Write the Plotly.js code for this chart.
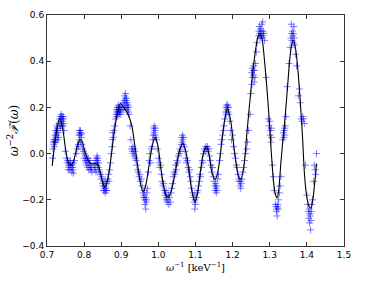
<!DOCTYPE html>
<html>
<head>
<meta charset="utf-8">
<script src="https://cdn.plot.ly/plotly-3.0.1.min.js"></script>
<style>html,body{margin:0;padding:0;background:#fff;}#plot{width:365px;height:281px;}</style>
</head>
<body>
<div id="plot"></div>
<script>
// Fitted curve (black line)
const curveX = [0.714,0.72,0.727,0.734,0.742,0.75,0.757,0.764,0.771,0.778,0.784,0.789,0.795,0.802,0.81,0.817,0.825,0.832,0.838,0.845,0.85,0.855,0.86,0.866,0.873,0.88,0.888,0.898,0.907,0.915,0.922,0.929,0.937,0.945,0.953,0.96,0.967,0.975,0.983,0.991,0.998,1.005,1.012,1.019,1.026,1.033,1.041,1.05,1.058,1.066,1.074,1.082,1.09,1.099,1.106,1.113,1.121,1.13,1.137,1.144,1.153,1.16,1.168,1.177,1.186,1.194,1.202,1.21,1.216,1.222,1.23,1.238,1.246,1.254,1.262,1.268,1.274,1.28,1.286,1.292,1.298,1.304,1.31,1.315,1.32,1.324,1.33,1.336,1.342,1.348,1.354,1.359,1.364,1.37,1.376,1.382,1.388,1.394,1.4,1.406,1.411,1.416,1.421,1.426];
const curveY = [-0.053,0.03,0.11,0.152,0.11,0.02,-0.035,-0.05,-0.035,0.01,0.048,0.061,0.05,0.01,-0.025,-0.042,-0.044,-0.043,-0.05,-0.09,-0.125,-0.144,-0.135,-0.09,-0.01,0.08,0.16,0.217,0.2,0.18,0.155,0.116,0.03,-0.06,-0.14,-0.166,-0.13,-0.05,0.03,0.07,0.04,-0.04,-0.12,-0.175,-0.188,-0.17,-0.12,-0.04,0.02,0.044,0.01,-0.07,-0.16,-0.209,-0.17,-0.08,0.0,0.032,-0.01,-0.08,-0.112,-0.08,0.01,0.13,0.195,0.15,0.05,-0.05,-0.1,-0.111,-0.06,0.08,0.22,0.35,0.45,0.505,0.52,0.49,0.4,0.29,0.16,0.01,-0.12,-0.175,-0.192,-0.16,-0.04,0.07,0.17,0.29,0.41,0.47,0.492,0.45,0.36,0.23,0.08,-0.1,-0.19,-0.228,-0.236,-0.2,-0.13,-0.043];

// Measured points (blue crosses), as [x, y] pairs
const cloud = [
[0.715,-0.02],[0.716,0.02],[0.718,0.04],[0.719,0.06],[0.72,0.05],[0.721,0.08],[0.722,0.06],[0.723,0.1],[0.724,0.07],[0.725,0.09],[0.726,0.12],[0.727,0.08],[0.728,0.11],[0.729,0.06],[0.73,0.09],[0.731,0.07],[0.72,0.03],[0.724,0.05],[0.727,0.1],[0.717,0.05],
[0.732,0.13],[0.734,0.15],[0.735,0.12],[0.736,0.16],[0.737,0.14],[0.738,0.17],[0.739,0.13],[0.74,0.15],[0.741,0.16],[0.742,0.14],[0.743,0.12],[0.744,0.15],[0.745,0.13],[0.736,0.11],[0.739,0.16],[0.741,0.12],[0.744,0.16],[0.746,0.1],
[0.749,0.01],[0.752,-0.02],[0.754,-0.04],[0.756,-0.03],[0.758,-0.05],[0.759,-0.06],[0.761,-0.04],[0.762,-0.07],[0.764,-0.05],[0.765,-0.06],[0.767,-0.08],[0.768,-0.05],[0.77,-0.07],[0.771,-0.085],[0.772,-0.04],[0.774,-0.03],[0.757,-0.07],[0.763,-0.03],[0.769,-0.06],
[0.779,0.0],[0.781,0.02],[0.784,0.04],[0.786,0.08],[0.787,0.1],[0.788,0.09],[0.789,0.08],[0.79,0.1],[0.791,0.09],[0.792,0.085],[0.793,0.07],[0.788,0.06],[0.79,0.05],[0.785,0.03],[0.794,0.04],[0.796,0.02],
[0.798,0.01],[0.8,-0.02],[0.801,0.0],[0.803,-0.01],[0.804,-0.03],[0.806,-0.02],[0.807,-0.05],[0.809,-0.03],[0.81,-0.06],[0.812,-0.04],[0.813,-0.07],[0.815,-0.05],[0.816,-0.03],[0.818,-0.07],[0.82,-0.06],[0.821,-0.08],[0.805,-0.04],[0.811,-0.02],[0.817,-0.06],
[0.826,-0.05],[0.828,-0.07],[0.83,-0.03],[0.831,-0.06],[0.833,-0.02],[0.834,-0.04],[0.835,-0.01],[0.836,-0.05],[0.837,-0.02],[0.838,-0.06],[0.839,-0.04],[0.84,-0.07],[0.841,-0.08],[0.832,-0.08],[0.836,-0.03],
[0.844,-0.09],[0.846,-0.11],[0.848,-0.1],[0.85,-0.13],[0.851,-0.14],[0.853,-0.12],[0.854,-0.15],[0.855,-0.16],[0.856,-0.14],[0.857,-0.17],[0.858,-0.15],[0.859,-0.16],[0.86,-0.13],[0.861,-0.16],[0.852,-0.16],[0.857,-0.12],
[0.864,-0.11],[0.866,-0.09],[0.867,-0.12],[0.869,-0.07],[0.871,-0.04],[0.873,0.0],[0.875,0.03],[0.876,0.06],[0.877,0.09],[0.879,0.07],[0.88,0.1],[0.882,0.12],
[0.884,0.15],[0.886,0.17],[0.887,0.19],[0.888,0.18],[0.889,0.2],[0.89,0.17],[0.891,0.19],[0.892,0.18],[0.893,0.2],[0.894,0.17],[0.895,0.19],[0.896,0.18],[0.897,0.2],[0.898,0.19],[0.899,0.17],[0.9,0.2],[0.887,0.16],[0.892,0.21],[0.895,0.18],
[0.903,0.2],[0.905,0.22],[0.907,0.19],[0.908,0.23],[0.909,0.25],[0.91,0.22],[0.911,0.24],[0.912,0.26],[0.913,0.21],[0.914,0.23],[0.915,0.2],[0.916,0.22],[0.917,0.19],[0.918,0.21],[0.919,0.18],[0.92,0.2],[0.921,0.17],[0.91,0.2],[0.914,0.24],
[0.924,0.12],[0.926,0.06],[0.928,0.02],[0.93,0.01],[0.931,0.03],[0.932,0.0],[0.934,0.02],[0.935,-0.01],[0.936,0.01],[0.938,-0.02],[0.94,-0.03],[0.942,-0.05],[0.944,-0.07],
[0.946,-0.08],[0.948,-0.1],[0.95,-0.09],[0.952,-0.12],[0.954,-0.11],[0.956,-0.14],[0.958,-0.17],[0.96,-0.19],[0.962,-0.18],[0.963,-0.2],[0.964,-0.22],[0.965,-0.19],[0.966,-0.24],[0.967,-0.21],[0.968,-0.2],[0.969,-0.17],[0.97,-0.15],[0.961,-0.16],
[0.973,-0.08],[0.975,-0.03],[0.977,0.0],[0.979,-0.04],[0.981,0.02],[0.983,0.03],[0.985,0.06],[0.986,0.08],[0.987,0.11],[0.988,0.09],[0.989,0.12],[0.99,0.1],[0.991,0.08],[0.992,0.11],[0.993,0.07],[0.995,0.06],[0.997,0.02],
[1.0,-0.02],[1.002,-0.04],[1.004,-0.06],[1.006,-0.05],[1.008,-0.09],[1.01,-0.12],[1.012,-0.14],[1.014,-0.13],[1.016,-0.16],[1.018,-0.18],[1.019,-0.17],[1.02,-0.2],[1.022,-0.19],[1.024,-0.21],[1.026,-0.2],[1.028,-0.22],[1.03,-0.19],[1.032,-0.21],[1.034,-0.17],[1.036,-0.15],[1.038,-0.13],[1.021,-0.16],[1.027,-0.18],
[1.04,-0.1],[1.042,-0.08],[1.044,-0.09],[1.046,-0.05],[1.048,-0.07],[1.05,-0.03],[1.052,-0.04],[1.054,-0.01],[1.056,0.0],[1.058,0.02],[1.06,0.01],[1.062,0.04],[1.063,0.07],[1.064,0.05],[1.065,0.08],[1.066,0.06],[1.067,0.04],[1.068,0.07],[1.07,0.03],[1.072,0.01],
[1.074,-0.02],[1.076,-0.04],[1.078,-0.03],[1.08,-0.06],[1.082,-0.08],[1.084,-0.07],[1.086,-0.1],[1.088,-0.12],[1.09,-0.15],[1.092,-0.17],[1.094,-0.19],[1.096,-0.18],[1.097,-0.21],[1.098,-0.24],[1.099,-0.2],[1.1,-0.22],[1.102,-0.19],[1.104,-0.17],[1.106,-0.16],
[1.108,-0.14],[1.11,-0.12],[1.112,-0.09],[1.114,-0.1],[1.116,-0.06],[1.118,-0.03],[1.12,-0.04],[1.122,0.0],[1.124,0.02],[1.126,0.01],[1.128,0.03],[1.13,0.02],[1.132,0.03],[1.134,0.01],[1.136,0.02],[1.138,-0.01],
[1.14,-0.03],[1.142,-0.05],[1.144,-0.08],[1.146,-0.06],[1.148,-0.1],[1.15,-0.12],[1.152,-0.14],[1.153,-0.16],[1.154,-0.13],[1.155,-0.15],[1.156,-0.17],[1.157,-0.14],[1.158,-0.16],[1.16,-0.11],[1.162,-0.09],
[1.165,-0.03],[1.167,0.0],[1.169,0.04],[1.171,0.06],[1.173,0.08],[1.175,0.1],[1.177,0.12],[1.179,0.15],[1.181,0.18],[1.182,0.2],[1.183,0.17],[1.184,0.21],[1.185,0.19],[1.186,0.2],[1.187,0.21],[1.188,0.18],[1.189,0.2],[1.19,0.17],[1.192,0.14],
[1.195,0.1],[1.197,0.06],[1.2,0.08],[1.202,0.03],[1.205,0.0],[1.208,-0.02],[1.21,-0.05],[1.212,-0.06],[1.215,-0.09],[1.217,-0.12],[1.218,-0.11],[1.22,-0.14],[1.221,-0.12],[1.222,-0.15],[1.223,-0.13],[1.225,-0.11],[1.228,-0.08],[1.23,-0.06],[1.232,-0.03],[1.235,0.0],[1.238,0.02],[1.24,0.05],[1.243,0.1],
[1.247,0.17],[1.249,0.26],[1.251,0.35],[1.252,0.3],[1.253,0.37],[1.254,0.33],[1.255,0.36],[1.256,0.34],[1.257,0.38],[1.258,0.31],[1.259,0.36],[1.26,0.33],[1.262,0.39],[1.264,0.44],[1.266,0.48],
[1.27,0.51],[1.271,0.53],[1.272,0.55],[1.273,0.52],[1.274,0.5],[1.275,0.54],[1.276,0.51],[1.277,0.53],[1.278,0.56],[1.279,0.52],[1.28,0.5],[1.281,0.57],[1.282,0.53],[1.283,0.51],[1.284,0.52],[1.286,0.49],[1.29,0.33],
[1.296,0.15],[1.298,0.12],[1.3,0.14],[1.301,0.08],[1.302,0.1],[1.303,0.05],[1.304,0.11],[1.305,0.07],[1.307,-0.05],[1.31,-0.1],[1.312,-0.16],[1.315,-0.22],[1.317,-0.23],[1.318,-0.25],[1.319,-0.24],[1.32,-0.27],[1.321,-0.23],[1.322,-0.22],[1.323,-0.24],[1.324,-0.2],[1.326,-0.17],[1.328,-0.14],[1.33,-0.1],
[1.335,0.06],[1.337,0.09],[1.338,0.07],[1.339,0.1],[1.34,0.08],[1.341,0.11],[1.342,0.12],[1.344,0.16],[1.347,0.29],[1.352,0.39],[1.355,0.46],[1.357,0.5],[1.358,0.56],[1.359,0.52],[1.36,0.49],[1.361,0.53],[1.362,0.51],[1.363,0.48],[1.364,0.52],[1.365,0.55],[1.366,0.5],[1.367,0.47],[1.369,0.43],
[1.372,0.38],[1.377,0.25],[1.38,0.28],[1.382,0.22],[1.385,0.15],[1.387,0.14],[1.389,0.16],[1.391,0.15],[1.393,0.13],[1.396,-0.05],[1.4,-0.18],[1.402,-0.22],[1.404,-0.25],[1.405,-0.28],[1.406,-0.24],[1.407,-0.3],[1.408,-0.26],[1.409,-0.27],[1.41,-0.33],[1.411,-0.29],[1.412,-0.25],[1.413,-0.22],[1.415,-0.2],[1.418,-0.12],[1.42,-0.05],[1.422,-0.07],[1.424,-0.09],[1.426,0.0]
];

const xTicks = [0.7,0.8,0.9,1.0,1.1,1.2,1.3,1.4,1.5];
const yTicks = [-0.4,-0.2,0.0,0.2,0.4,0.6];

const axisCommon = {
  showgrid: false, zeroline: false, showline: true, mirror: 'ticks',
  linecolor: '#333', linewidth: 1, ticks: 'inside', ticklen: 4, tickwidth: 1, tickcolor: '#333',
  tickfont: {family: 'DejaVu Sans', size: 9, color: '#000'}, tickformat: '.1f', tickmode: 'array'
};

const traces = [
  {x: cloud.map(p => p[0]), y: cloud.map(p => p[1]), type: 'scatter', mode: 'markers',
   marker: {symbol: 'cross-thin', size: 5, line: {width: 1, color: 'rgba(0,0,255,0.5)'}}, hoverinfo: 'skip'},
  {x: curveX, y: curveY, type: 'scatter', mode: 'lines',
   line: {color: '#000', width: 1.1, shape: 'spline', smoothing: 0.8}, hoverinfo: 'skip'}
];

const layout = {
  width: 365, height: 281, showlegend: false,
  paper_bgcolor: '#fff', plot_bgcolor: '#fff',
  margin: {l: 47, r: 21, t: 15, b: 35},
  xaxis: Object.assign({}, axisCommon, {range: [0.7, 1.5], tickvals: xTicks,
    title: {text: '<i>ω</i><sup>−1</sup> [keV<sup>−1</sup>]', font: {family: 'DejaVu Serif', size: 10, color: '#000'}, standoff: 5}}),
  yaxis: Object.assign({}, axisCommon, {range: [-0.4, 0.6], tickvals: yTicks,
    title: {text: '<i>ω</i><sup>−2</sup><i>ℱ</i>(<i>ω</i>)', font: {family: 'DejaVu Serif', size: 12, color: '#000'}, standoff: 1}})
};

Plotly.newPlot('plot', traces, layout, {staticPlot: true, displayModeBar: false});
</script>
</body>
</html>
